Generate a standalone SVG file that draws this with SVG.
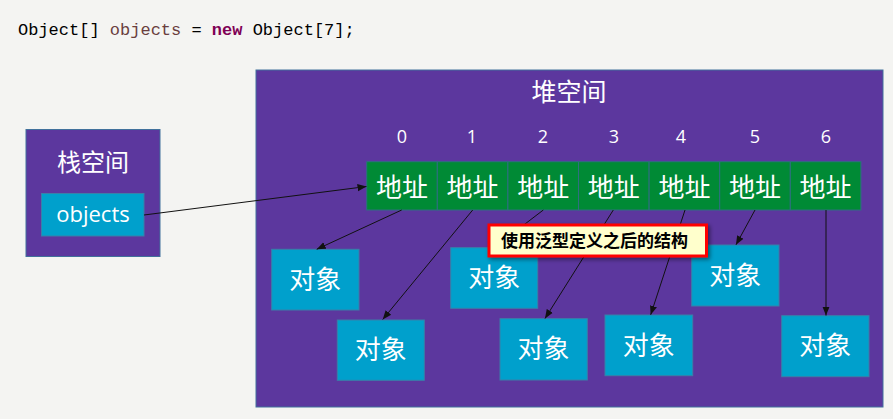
<svg xmlns="http://www.w3.org/2000/svg" width="893" height="419" viewBox="0 0 893 419">
<defs>
<style>
.code{font-family:"Liberation Mono","DejaVu Sans Mono",monospace;font-size:17px;fill:#000}
.cjk{font-family:"Noto Sans CJK SC","Noto Sans",sans-serif;fill:#fff;text-anchor:middle}
.space{fill:#5c379e;stroke:#41719c;stroke-width:1}
.cell{fill:#008a35;stroke:#2f6f80;stroke-width:1}
.obj{fill:#00a0cc;stroke:#3a7fa8;stroke-width:1}
.idx{font-family:"Open Sans","Liberation Sans",sans-serif;font-size:18px;fill:#fff;text-anchor:middle}
.conn{stroke:#111;stroke-width:1;fill:none;marker-end:url(#ah)}
</style>
<marker id="ah" viewBox="0 0 10 10" refX="10" refY="5" markerWidth="9" markerHeight="9" markerUnits="userSpaceOnUse" orient="auto">
<path d="M0,1 L10,5 L0,9 z" fill="#111"/>
</marker>
<filter id="sh" x="-10%" y="-20%" width="130%" height="160%">
<feDropShadow dx="2" dy="2" stdDeviation="2" flood-color="#000" flood-opacity="0.45"/>
</filter>
</defs>
<rect width="893" height="419" fill="#f4f4f2"/>
<text class="code" x="18" y="35">Object[] <tspan fill="#6a3e3e">objects</tspan> = <tspan fill="#7f0055" font-weight="bold">new</tspan> Object[7];</text>

<g id="stack">
<rect class="space" x="26" y="129.5" width="134" height="127"/>
<text class="cjk" x="93" y="171" font-size="24">栈空间</text>
</g>
<g id="objects">
<rect class="obj" x="41.5" y="193.5" width="102.5" height="42.5"/>
<text x="93" y="222" font-family="'Open Sans','Noto Sans',sans-serif" font-size="22" fill="#fff" text-anchor="middle">objects</text>
</g>

<g id="heap">
<rect class="space" x="256" y="70" width="627" height="337"/>
<text class="cjk" x="569" y="101" font-size="25">堆空间</text>
</g>

<g id="indices">
<text class="idx" x="402" y="143">0</text>
<text class="idx" x="472" y="143">1</text>
<text class="idx" x="543" y="143">2</text>
<text class="idx" x="614" y="143">3</text>
<text class="idx" x="681" y="143">4</text>
<text class="idx" x="755" y="143">5</text>
<text class="idx" x="826" y="143">6</text>
</g>

<g id="cell0"><rect class="cell" x="366.7" y="161.7" width="70.6" height="48.3"/><text class="cjk" x="402" y="197" font-size="26">地址</text></g>
<g id="cell1"><rect class="cell" x="437.3" y="161.7" width="70.6" height="48.3"/><text class="cjk" x="472.6" y="197" font-size="26">地址</text></g>
<g id="cell2"><rect class="cell" x="507.9" y="161.7" width="70.6" height="48.3"/><text class="cjk" x="543.2" y="197" font-size="26">地址</text></g>
<g id="cell3"><rect class="cell" x="578.5" y="161.7" width="70.6" height="48.3"/><text class="cjk" x="613.8" y="197" font-size="26">地址</text></g>
<g id="cell4"><rect class="cell" x="649.1" y="161.7" width="70.6" height="48.3"/><text class="cjk" x="684.4" y="197" font-size="26">地址</text></g>
<g id="cell5"><rect class="cell" x="719.7" y="161.7" width="70.6" height="48.3"/><text class="cjk" x="755" y="197" font-size="26">地址</text></g>
<g id="cell6"><rect class="cell" x="790.3" y="161.7" width="70.6" height="48.3"/><text class="cjk" x="825.6" y="197" font-size="26">地址</text></g>

<g id="objA"><rect class="obj" x="271.7" y="249.3" width="87.3" height="60.7"/><text class="cjk" x="315.3" y="288.5" font-size="26">对象</text></g>
<g id="objB"><rect class="obj" x="337.3" y="320" width="87" height="60.3"/><text class="cjk" x="380.8" y="359" font-size="26">对象</text></g>
<g id="objC"><rect class="obj" x="450.7" y="247.7" width="87" height="60.6"/><text class="cjk" x="494.2" y="287" font-size="26">对象</text></g>
<g id="objD"><rect class="obj" x="500" y="318.7" width="87.3" height="61.3"/><text class="cjk" x="543.6" y="358" font-size="26">对象</text></g>
<g id="objE"><rect class="obj" x="605" y="315" width="87.7" height="60.7"/><text class="cjk" x="648.8" y="354.5" font-size="26">对象</text></g>
<g id="objF"><rect class="obj" x="691.7" y="245" width="87.3" height="61"/><text class="cjk" x="735.3" y="284.5" font-size="26">对象</text></g>
<g id="objG"><rect class="obj" x="781.7" y="315.7" width="87.3" height="61"/><text class="cjk" x="825.3" y="355" font-size="26">对象</text></g>

<g id="connectors">
<line class="conn" x1="144" y1="215" x2="366.5" y2="186.5"/>
<line class="conn" x1="401.7" y1="210" x2="316.7" y2="249.3"/>
<line class="conn" x1="472.7" y1="210" x2="382.7" y2="319.5"/>
<line class="conn" x1="543.3" y1="210" x2="494" y2="247.7"/>
<line class="conn" x1="613.3" y1="210" x2="545" y2="318.5"/>
<line class="conn" x1="685" y1="210" x2="650.7" y2="314.8"/>
<line class="conn" x1="755" y1="210" x2="736" y2="244.8"/>
<line class="conn" x1="826" y1="210" x2="826" y2="315.5"/>
</g>

<g id="callout">
<rect x="489" y="225" width="217.5" height="31" fill="#ffffcc" stroke="#ff0000" stroke-width="3" filter="url(#sh)"/>
<text x="501" y="247" font-family="'Noto Sans CJK SC',sans-serif" font-size="17" font-weight="bold" fill="#000">使用泛型定义之后的结构</text>
</g>
</svg>
